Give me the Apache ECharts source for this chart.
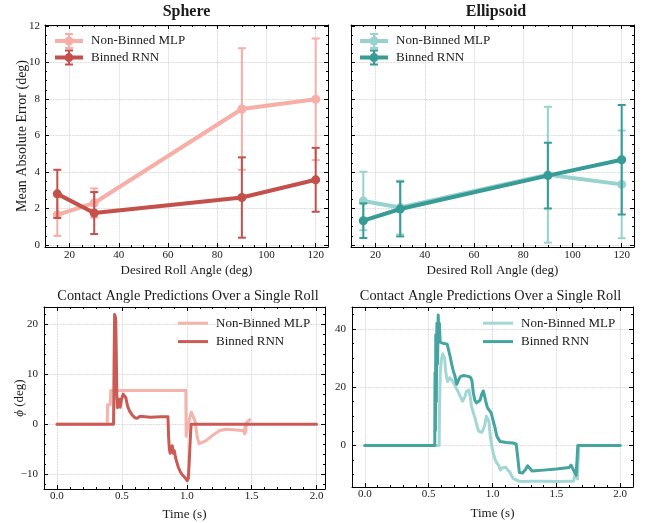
<!DOCTYPE html>
<html><head><meta charset="utf-8">
<script src="https://cdn.jsdelivr.net/npm/echarts@6/dist/echarts.min.js"></script>
<style>html,body{margin:0;padding:0;background:#fff}#c{width:646px;height:523px}</style>
</head><body><div id="c"></div>
<script>
// ---------------- data ----------------
const rollAngles = [15, 30, 90, 120];
const sphereMlpMean = [1.65, 2.3, 7.45, 7.98];
const sphereMlpErr  = [1.15, 0.8, 3.33, 3.33];
const sphereRnnMean = [2.8, 1.75, 2.6, 3.57];
const sphereRnnErr  = [1.32, 1.15, 2.2, 1.75];
const ellipMlpMean  = [2.41, 2.05, 3.85, 3.32];
const ellipMlpErr   = [1.6, 1.47, 3.72, 2.95];
const ellipRnnMean  = [1.33, 1.97, 3.8, 4.67];
const ellipRnnErr   = [0.95, 1.5, 1.8, 3.0];

const sphereRollTimeMlp = [0, 0.387, 0.39, 0.41, 0.415, 0.993, 0.995, 1.008, 1.02, 1.035, 1.05, 1.065, 1.08, 1.095, 1.11, 1.15, 1.2, 1.25, 1.3, 1.36, 1.44, 1.445, 1.45, 1.455, 1.46, 1.47, 1.485];
const sphereRollMlp     = [0, 0, 3.9, 3.9, 6.75, 6.75, -2.4, -2.2, 1.0, 2.4, 2.2, 0.5, -2.5, -3.9, -4.0, -3.3, -2.2, -1.3, -1.0, -1.1, -1.3, -1.9, 0.0, -1.6, 0.3, 0.5, 0.9];
const sphereRollTimeRnn = [0, 0.436, 0.440, 0.444, 0.447, 0.450, 0.453, 0.457, 0.461, 0.466, 0.474, 0.480, 0.487, 0.497, 0.510, 0.520, 0.530, 0.545, 0.560, 0.580, 0.600, 0.620, 0.640, 0.655, 0.680, 0.720, 0.800, 0.855, 0.860, 0.866, 0.872, 0.880, 0.888, 0.896, 0.904, 0.912, 0.922, 0.935, 0.950, 0.965, 0.980, 0.993, 1.003, 1.012, 1.018, 1.024, 1.030, 1.034, 2.0];
const sphereRollRnn     = [0, 0, 12, 21.9, 18, 21.5, 20.5, 14, 6, 3.3, 3.5, 5.0, 3.4, 5.0, 6.0, 6.1, 5.3, 3.5, 2.6, 1.8, 1.3, 1.2, 1.6, 1.8, 1.5, 1.4, 1.5, 1.5, -2.5, -5.0, -5.8, -5.0, -4.3, -5.8, -5.3, -6.5, -7.5, -8.6, -9.5, -10.1, -10.5, -10.9, -11.3, -10.8, -8.0, -4.5, -1.5, 0, 0];

const ellipRollTimeMlp = [0, 0.582, 0.586, 0.592, 0.600, 0.610, 0.618, 0.625, 0.632, 0.640, 0.648, 0.656, 0.665, 0.675, 0.69, 0.70, 0.712, 0.725, 0.74, 0.752, 0.765, 0.776, 0.785, 0.795, 0.805, 0.815, 0.825, 0.835, 0.845, 0.855, 0.867, 0.88, 0.893, 0.906, 0.918, 0.93, 0.94, 0.952, 0.962, 0.972, 0.983, 0.995, 1.009, 1.022, 1.035, 1.05, 1.062, 1.075, 1.09, 1.105, 1.12, 1.136, 1.15, 1.165, 1.18, 1.21, 1.25, 1.30, 1.40, 1.50, 1.60, 1.635, 1.645, 1.655, 1.665, 1.672, 1.676, 2.0];
const ellipRollMlp     = [0, 0, 15, 26, 29.5, 31.5, 31.8, 30, 26, 23.5, 22, 22.3, 23.2, 22.6, 22, 21.5, 20, 19, 17.5, 16.5, 15.2, 15.0, 16.8, 18.6, 19.2, 19.0, 17, 13.5, 12, 10.5, 8.8, 6.5, 4.8, 4.2, 4.5, 4.8, 7, 10, 9.5, 8.3, 3.1, -0.5, -3.2, -5, -6.1, -7, -8.5, -7.8, -7.2, -7.5, -8.5, -9.2, -10.5, -11.5, -12.0, -12.3, -12.4, -12.3, -12.3, -12.4, -12.3, -12.3, -10, -9.8, -11.5, -12, 0, 0];
const ellipRollTimeRnn = [0, 0.548, 0.550, 0.553, 0.556, 0.560, 0.565, 0.570, 0.575, 0.580, 0.584, 0.590, 0.60, 0.62, 0.645, 0.655, 0.668, 0.68, 0.694, 0.705, 0.72, 0.73, 0.74, 0.75, 0.76, 0.775, 0.80, 0.825, 0.838, 0.85, 0.862, 0.876, 0.89, 0.902, 0.915, 0.928, 0.938, 0.948, 0.96, 0.975, 0.99, 1.005, 1.02, 1.035, 1.06, 1.11, 1.16, 1.185, 1.195, 1.21, 1.235, 1.26, 1.275, 1.29, 1.31, 1.335, 1.40, 1.50, 1.60, 1.615, 1.625, 1.64, 1.655, 1.662, 1.668, 2.0];
const ellipRollRnn     = [0, 0, 25, 5, 38, 15, 42, 28, 44.8, 36, 42, 35.5, 35, 35, 34.8, 33, 30.6, 28, 25.4, 24, 21, 22, 23, 23.7, 24, 24, 23.8, 23.5, 22.5, 18, 15.5, 14.6, 14.2, 15.5, 17.5, 18.7, 17, 15, 13, 12.5, 11.2, 8.5, 6, 3, 1.3, 1.0, 0.8, 0.5, -3, -9.3, -9.5, -8.2, -7.0, -7.5, -8.8, -8.7, -8.5, -8.1, -7.6, -6.8, -7.2, -9, -10.2, -10.3, 0, 0];

const legendLabels = ['Non-Binned MLP', 'Binned RNN'];
const panelTitles = ['Sphere', 'Ellipsoid', 'Contact Angle Predictions Over a Single Roll', 'Contact Angle Predictions Over a Single Roll'];
const xAxisNames = ['Desired Roll Angle (deg)', 'Desired Roll Angle (deg)', 'Time (s)', 'Time (s)'];

// ---------------- layout / style ----------------
const FONT = 'Liberation Serif';
const TXT = '#1a1a1a';
const C = {
  pinkL: '#F7AEA6', redD: '#C3504A', tealL: '#98D2CF', tealD: '#379B96',
  pinkL2: '#F6B3AC', redD2: '#CB5A54', tealL2: '#A2D7D4', tealD2: '#45A4A0'
};
const grids = [
  {left: 45, top: 25, width: 283, height: 222},
  {left: 351, top: 25, width: 283, height: 222},
  {left: 44, top: 307, width: 281, height: 182},
  {left: 352, top: 307, width: 281, height: 180}
];
const xr = [[10, 125], [10, 125], [-0.1, 2.065], [-0.1, 2.1]];
const yr = [[-0.11, 12.05], [-0.11, 12.05], [-12.94, 23.4], [-14.3, 47.56]];
const xSplit = [[6, 23], [6, 23], [5, 20], [5, 20]];
const ySplit = [[6, 24], [6, 24], [4, 18], [3, 12]];

function fmtInt(v) { return v < 0 ? '\u2212' + (-v) : String(v); }
function fmt1(v) { return v < 0 ? '\u2212' + (-v).toFixed(1) : v.toFixed(1); }

function mkAxis(dim, g, pos, minor, extra) {
  const r = dim === 'x' ? xr[g] : yr[g];
  const sp = dim === 'x' ? xSplit[g] : ySplit[g];
  const ax = {
    type: 'value', gridIndex: g, position: pos, min: r[0], max: r[1],
    splitNumber: minor ? sp[1] : sp[0], silent: true,
    axisLine: {show: !minor, onZero: false, lineStyle: {color: '#000', width: 1}},
    axisTick: {show: true, inside: true, length: minor ? 2 : 4, lineStyle: {color: '#000', width: 1}},
    axisLabel: {show: false}, splitLine: {show: false}, minorTick: {show: false}
  };
  return Object.assign(ax, extra || {});
}
const splitStyle = {show: true, lineStyle: {type: 'dotted', color: '#c4c4c4', width: 0.8}};
const xAxes = [], yAxes = [];
const xGap = [17, 17, 19, 20.5];
for (let g = 0; g < 4; g++) {
  xAxes.push(mkAxis('x', g, 'bottom', false, {
    axisLabel: {show: true, margin: g < 2 ? 3 : 2, fontFamily: FONT, fontSize: 11, color: TXT,
      showMinLabel: false, showMaxLabel: false, formatter: g < 2 ? fmtInt : fmt1},
    splitLine: splitStyle,
    name: xAxisNames[g], nameLocation: 'middle', nameGap: xGap[g], nameMoveOverlap: false,
    nameTextStyle: {fontFamily: FONT, fontSize: 13, color: TXT}
  }));
  xAxes.push(mkAxis('x', g, 'bottom', true));
  xAxes.push(mkAxis('x', g, 'top', false));
  xAxes.push(mkAxis('x', g, 'top', true));
  const yExtra = {splitLine: splitStyle};
  if (g !== 1) {
    yExtra.axisLabel = {show: true, margin: g === 0 ? 5 : 6, fontFamily: FONT, fontSize: 11, color: TXT,
      showMinLabel: false, showMaxLabel: false, formatter: fmtInt};
  }
  if (g === 0) {
    yExtra.name = 'Mean Absolute Error (deg)'; yExtra.nameLocation = 'middle'; yExtra.nameGap = 16;
    yExtra.nameMoveOverlap = false;
    yExtra.nameTextStyle = {fontFamily: FONT, fontSize: 14, color: TXT};
  }
  if (g === 2) {
    yExtra.name = '{i|\u03D5} (deg)'; yExtra.nameLocation = 'middle'; yExtra.nameGap = 18;
    yExtra.nameMoveOverlap = false;
    yExtra.nameTextStyle = {fontFamily: FONT, fontSize: 13, color: TXT,
      rich: {i: {fontFamily: FONT, fontSize: 13, fontStyle: 'italic', color: TXT}}};
  }
  yAxes.push(mkAxis('y', g, 'left', false, yExtra));
  yAxes.push(mkAxis('y', g, 'left', true));
  yAxes.push(mkAxis('y', g, 'right', false));
  yAxes.push(mkAxis('y', g, 'right', true));
}

function errRender(params, api) {
  const x = api.value(0), lo = api.value(1), hi = api.value(2);
  const p1 = api.coord([x, lo]), p2 = api.coord([x, hi]);
  const w = 4;
  const style = {stroke: api.visual('color'), lineWidth: 2, fill: null};
  return {type: 'group', children: [
    {type: 'line', shape: {x1: p1[0], y1: p1[1], x2: p2[0], y2: p2[1]}, style: style},
    {type: 'line', shape: {x1: p1[0] - w, y1: p1[1], x2: p1[0] + w, y2: p1[1]}, style: style},
    {type: 'line', shape: {x1: p2[0] - w, y1: p2[1], x2: p2[0] + w, y2: p2[1]}, style: style}
  ]};
}

const series = [];
function addErrSeries(g, name, mean, err, color, z) {
  series.push({
    type: 'custom', name: name + '_err', xAxisIndex: 4 * g, yAxisIndex: 4 * g, z: z, silent: true,
    renderItem: errRender, itemStyle: {color: color}, encode: {x: 0, y: [1, 2]},
    data: rollAngles.map((x, i) => [x, mean[i] - err[i], mean[i] + err[i]])
  });
  series.push({
    type: 'line', name: name, xAxisIndex: 4 * g, yAxisIndex: 4 * g, z: z + 1, silent: true,
    symbol: 'circle', symbolSize: 9, showSymbol: true,
    lineStyle: {width: 4, color: color}, itemStyle: {color: color, borderWidth: 0},
    emphasis: {disabled: true},
    data: rollAngles.map((x, i) => [x, mean[i]])
  });
}
addErrSeries(0, 'sMLP', sphereMlpMean, sphereMlpErr, C.pinkL, 2);
addErrSeries(0, 'sRNN', sphereRnnMean, sphereRnnErr, C.redD, 4);
addErrSeries(1, 'eMLP', ellipMlpMean, ellipMlpErr, C.tealL, 2);
addErrSeries(1, 'eRNN', ellipRnnMean, ellipRnnErr, C.tealD, 4);

function addRoll(g, name, ts, vs, color, z) {
  series.push({
    type: 'line', name: name, xAxisIndex: 4 * g, yAxisIndex: 4 * g, z: z, silent: true,
    symbol: 'none', showSymbol: false,
    lineStyle: {width: 3, color: color, join: 'round', cap: 'round'}, itemStyle: {color: color},
    emphasis: {disabled: true},
    data: ts.map((t, i) => [t, vs[i]])
  });
}
addRoll(2, 'cMLP', sphereRollTimeMlp, sphereRollMlp, C.pinkL2, 2);
addRoll(2, 'cRNN', sphereRollTimeRnn, sphereRollRnn, C.redD2, 3);
addRoll(3, 'dMLP', ellipRollTimeMlp, ellipRollMlp, C.tealL2, 2);
addRoll(3, 'dRNN', ellipRollTimeRnn, ellipRollRnn, C.tealD2, 3);

const ERR_ICON = 'path://M0,6H28V10H0Z M13,1H15V15H13Z M10,0H18V2H10Z M10,14H18V16H10Z M9.5,8A4.5,4.5 0 1 1 18.5,8A4.5,4.5 0 1 1 9.5,8Z';
const nameMap = {sMLP: legendLabels[0], sRNN: legendLabels[1], eMLP: legendLabels[0], eRNN: legendLabels[1],
  cMLP: legendLabels[0], cRNN: legendLabels[1], dMLP: legendLabels[0], dRNN: legendLabels[1]};
const legTxt = {fontFamily: FONT, fontSize: 13, color: TXT, padding: [0, 0, 0, 3]};
function topLegend(left, names, colors) {
  return {left: left, top: 33, orient: 'vertical', padding: 0, selectedMode: false,
    itemWidth: 28, itemHeight: 16, itemGap: 0.6, formatter: n => nameMap[n],
    textStyle: Object.assign({lineHeight: 16}, legTxt),
    data: names.map((n, i) => ({name: n, icon: ERR_ICON, itemStyle: {color: colors[i], borderWidth: 0}}))};
}
function botLegend(left, names, colors) {
  return {left: left, top: 314, orient: 'vertical', padding: 0, selectedMode: false,
    itemWidth: 30, itemHeight: 3, itemGap: 0, formatter: n => nameMap[n],
    textStyle: Object.assign({lineHeight: 18.4}, legTxt),
    data: names.map((n, i) => ({name: n, icon: 'rect', itemStyle: {color: colors[i], borderWidth: 0}}))};
}

const titleStyle = (size, bold) => ({fontFamily: FONT, fontSize: size, fontWeight: bold ? 'bold' : 'normal', color: TXT});
const option = {
  animation: false,
  backgroundColor: '#fff',
  title: [
    {text: panelTitles[0], left: 186.5, top: 4, textAlign: 'center', padding: 0, textStyle: titleStyle(16, true)},
    {text: panelTitles[1], left: 496, top: 4, textAlign: 'center', padding: 0, textStyle: titleStyle(16, true)},
    {text: panelTitles[2], left: 188, top: 289, textAlign: 'center', padding: 0, textStyle: titleStyle(14.3, false)},
    {text: panelTitles[3], left: 490.5, top: 289, textAlign: 'center', padding: 0, textStyle: titleStyle(14.3, false)}
  ],
  legend: [
    topLegend(55, ['sMLP', 'sRNN'], [C.pinkL, C.redD]),
    topLegend(360, ['eMLP', 'eRNN'], [C.tealL, C.tealD]),
    botLegend(178, ['cMLP', 'cRNN'], [C.pinkL2, C.redD2]),
    botLegend(483, ['dMLP', 'dRNN'], [C.tealL2, C.tealD2])
  ],
  grid: grids,
  xAxis: xAxes,
  yAxis: yAxes,
  series: series
};
const chart = echarts.init(document.getElementById('c'), null, {renderer: 'canvas'});
chart.setOption(option);
</script>
</body></html>
